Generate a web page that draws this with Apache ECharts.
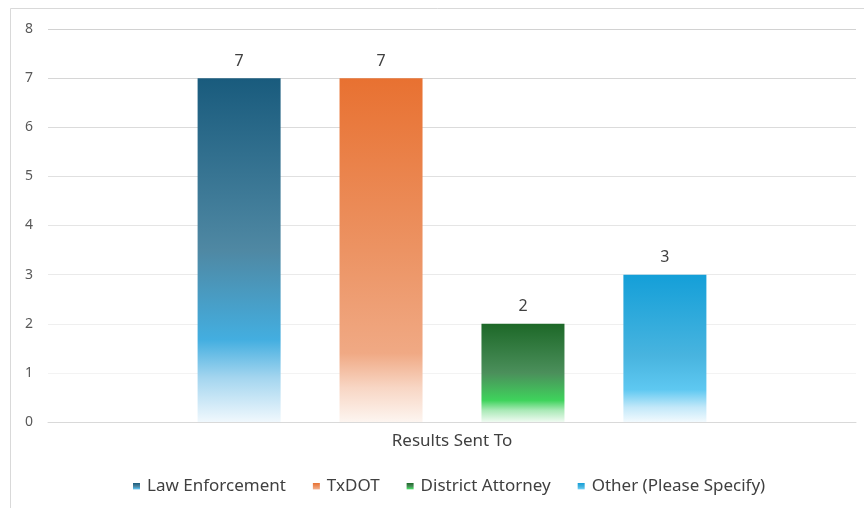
<!DOCTYPE html>
<html>
<head>
<meta charset="utf-8">
<style>
  html, body { margin: 0; padding: 0; background: #ffffff; }
  #chart { width: 864px; height: 508px; }
</style>
<script src="https://cdn.jsdelivr.net/npm/echarts@6/dist/echarts.min.js"></script>
</head>
<body>
<div id="chart"></div>
<script>
// Where survey results were sent
const categories = ['Results Sent To'];
const seriesNames = ['Law Enforcement', 'TxDOT', 'District Attorney', 'Other (Please Specify)'];
const lawEnforcement = [7];
const txdot = [7];
const districtAttorney = [2];
const other = [3];
const yTicks = [0, 1, 2, 3, 4, 5, 6, 7, 8];

const seriesValues = [lawEnforcement, txdot, districtAttorney, other];

// vertical fades for each bar, top to bottom
function fade(stops) {
  return new echarts.graphic.LinearGradient(0, 0, 0, 1,
    stops.map(s => ({ offset: s[0], color: s[1] })));
}
const fills = [
  fade([[0, '#195b7d'], [0.5, '#4f88a3'], [0.76, '#43aee0'], [0.87, '#a3d5ef'], [1, '#f0f8fd']]),
  fade([[0, '#e87131'], [0.5, '#ec9363'], [0.8, '#f0a984'], [0.9, '#f8d6c4'], [1, '#fdf5f0']]),
  fade([[0, '#1d6828'], [0.5, '#4b8f5b'], [0.78, '#3fd35c'], [0.88, '#a9e9b6'], [1, '#f0fbf2']]),
  fade([[0, '#149fd8'], [0.55, '#48b4df'], [0.78, '#5ec8f1'], [0.9, '#c2e8f9'], [1, '#f2fafe']])
];

// gridlines get darker toward the top
const gridColors = ['#d9d9d9', '#f3f3f3', '#efefef', '#eaeaea', '#e5e5e5', '#e0e0e0', '#dbdbdb', '#d6d6d6', '#d2d2d2'];

const chart = echarts.init(document.getElementById('chart'), null, { renderer: 'canvas' });

chart.setOption({
  animation: false,
  backgroundColor: '#ffffff',
  textStyle: { fontFamily: 'Noto Sans' },
  graphic: [{
    type: 'rect',
    shape: { x: 10.5, y: 8.5, width: 900, height: 600 },
    style: { fill: 'none', stroke: '#d9d9d9', lineWidth: 1 },
    silent: true,
    z: -1
  }],
  grid: { left: 48, right: 8, top: 29, bottom: 86, containLabel: false },
  legend: {
    bottom: 8,
    left: 128,
    itemWidth: 7,
    itemHeight: 7,
    itemGap: 27,
    icon: 'rect',
    textStyle: { color: '#404040', fontSize: 17, fontFamily: 'Noto Sans', padding: [0, 0, 0, 2] },
    data: seriesNames
  },
  xAxis: {
    type: 'category',
    data: categories,
    axisLine: { show: true, lineStyle: { color: '#d9d9d9', width: 1 } },
    axisTick: { show: false },
    axisLabel: { color: '#404040', fontSize: 17, margin: 11 }
  },
  yAxis: {
    type: 'value',
    min: yTicks[0],
    max: yTicks[yTicks.length - 1],
    interval: 1,
    axisLine: { show: false },
    axisTick: { show: false },
    axisLabel: { color: '#595959', fontSize: 14, margin: 15 },
    splitLine: { show: true, lineStyle: { color: gridColors, width: 1 } }
  },
  series: seriesNames.map((name, i) => ({
    name: name,
    type: 'bar',
    data: seriesValues[i],
    barWidth: 83,
    barGap: '71%',
    itemStyle: { color: fills[i] },
    label: {
      show: true,
      position: 'top',
      distance: 9,
      color: '#404040',
      fontSize: 16
    }
  }))
});
</script>
</body>
</html>
